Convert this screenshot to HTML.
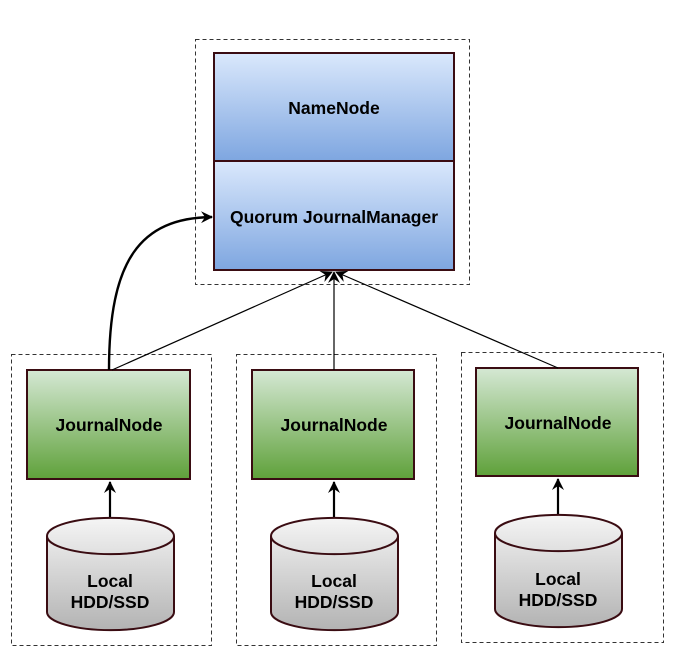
<!DOCTYPE html>
<html><head><meta charset="utf-8"><style>body{margin:0;background:#fff}</style></head><body>
<svg width="674" height="660" xmlns="http://www.w3.org/2000/svg" font-family="Liberation Sans, sans-serif" font-weight="bold">
<defs>
<linearGradient id="b" x1="0" y1="0" x2="0" y2="1"><stop offset="0" stop-color="#dae8fc"/><stop offset="1" stop-color="#7ea6e0"/></linearGradient>
<linearGradient id="g" x1="0" y1="0" x2="0" y2="1"><stop offset="0" stop-color="#d5e8d4"/><stop offset="1" stop-color="#5fa13a"/></linearGradient>
<linearGradient id="c" x1="0" y1="0" x2="0" y2="1"><stop offset="0" stop-color="#f5f5f5"/><stop offset="1" stop-color="#b3b3b3"/></linearGradient>
<marker id="a" markerWidth="14" markerHeight="14" refX="11" refY="6" orient="auto" markerUnits="userSpaceOnUse"><path d="M0,0 L12,6 L0,12 L4,6 Z" fill="#000"/></marker>
</defs>
<g fill="none" stroke="#333" stroke-dasharray="4,3" stroke-width="1">
<rect x="195.5" y="39.5" width="274" height="245"/>
<rect x="11.5" y="354.5" width="200" height="291"/>
<rect x="236.5" y="354.5" width="200" height="291"/>
<rect x="461.5" y="352.5" width="202" height="290"/>
</g>
<g stroke="#3a0c12" stroke-width="2">
<rect x="214" y="53" width="240" height="108" fill="url(#b)"/>
<rect x="214" y="161" width="240" height="109" fill="url(#b)"/>
<rect x="27" y="370" width="163" height="109" fill="url(#g)"/>
<rect x="252" y="370" width="162" height="109" fill="url(#g)"/>
<rect x="476" y="368" width="162" height="108" fill="url(#g)"/>
</g>
<g stroke="#000" stroke-width="1.2" fill="none">
<line x1="112" y1="370" x2="332" y2="272" marker-end="url(#a)"/>
<line x1="334" y1="370" x2="334" y2="272" marker-end="url(#a)"/>
<line x1="558" y1="368" x2="336" y2="272" marker-end="url(#a)"/>
</g>
<path d="M109,370 C109,260 140,218 212,217" stroke="#000" stroke-width="2.4" fill="none" marker-end="url(#a)"/>
<g stroke="#000" stroke-width="2.2" fill="none">
<line x1="110" y1="518" x2="110" y2="482" marker-end="url(#a)"/>
<line x1="334" y1="518" x2="334" y2="482" marker-end="url(#a)"/>
<line x1="558" y1="515" x2="558" y2="479" marker-end="url(#a)"/>
</g>
<g stroke="#3a0c12" stroke-width="2" fill="url(#c)">
<path d="M47,536 A63,18 0 0 1 174,536 L174,612 A63,18 0 0 1 47,612 Z"/>
<path d="M47,536 A63,18 0 0 0 174,536" fill="none"/>
<path d="M271,536 A63,18 0 0 1 398,536 L398,612 A63,18 0 0 1 271,612 Z"/>
<path d="M271,536 A63,18 0 0 0 398,536" fill="none"/>
<path d="M495,533 A63,18 0 0 1 622,533 L622,609 A63,18 0 0 1 495,609 Z"/>
<path d="M495,533 A63,18 0 0 0 622,533" fill="none"/>
</g>
<g font-size="17.5" text-anchor="middle" fill="#000">
<text x="334" y="114">NameNode</text>
<text x="334" y="223">Quorum JournalManager</text>
<text x="109" y="431">JournalNode</text>
<text x="334" y="431">JournalNode</text>
<text x="558" y="429">JournalNode</text>
<text x="110" y="587">Local</text><text x="110" y="608">HDD/SSD</text>
<text x="334" y="587">Local</text><text x="334" y="608">HDD/SSD</text>
<text x="558" y="585">Local</text><text x="558" y="606">HDD/SSD</text>
</g>
</svg>
</body></html>
